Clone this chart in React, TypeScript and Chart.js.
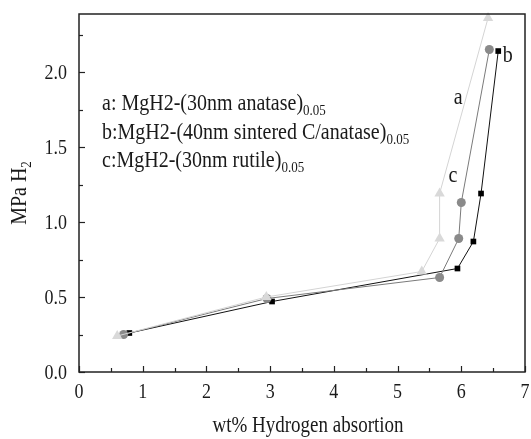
import React, { useEffect, useRef } from "react";
import { Chart, registerables } from "chart.js";

Chart.register(...registerables);

// Hydrogen absorption isotherms: wt% absorbed vs. pressure (MPa H2)
const seriesAX = [0.6, 2.94, 5.38, 5.66, 5.66, 6.42];
const seriesAY = [0.24, 0.5, 0.67, 0.89, 1.19, 2.36];
const seriesBX = [0.79, 3.03, 5.94, 6.19, 6.31, 6.58];
const seriesBY = [0.26, 0.47, 0.69, 0.87, 1.19, 2.14];
const seriesCX = [0.7, 2.95, 5.66, 5.96, 6.0, 6.44];
const seriesCY = [0.25, 0.49, 0.63, 0.89, 1.13, 2.15];

const xTicks = [0, 1, 2, 3, 4, 5, 6, 7];
const yTicks = [0.0, 0.5, 1.0, 1.5, 2.0];

const legendLines = [
  { main: "a: MgH2-(30nm anatase)", sub: "0.05" },
  { main: "b:MgH2-(40nm sintered C/anatase)", sub: "0.05" },
  { main: "c:MgH2-(30nm rutile)", sub: "0.05" },
];

const curveTags = [
  { text: "a", x: 5.88, y: 1.79 },
  { text: "b", x: 6.65, y: 2.07 },
  { text: "c", x: 5.8, y: 1.27 },
];

const pts = (xs: number[], ys: number[]) => xs.map((x, i) => ({ x, y: ys[i] }));

const SERIF = "'Liberation Serif', 'DejaVu Serif', serif";
const STRETCH = 1.2;

// text drawn slightly taller than wide, baseline at (x, y)
function tallText(ctx: CanvasRenderingContext2D, text: string, x: number, y: number, size: number, align: CanvasTextAlign = "left") {
  ctx.save();
  ctx.font = `${size}px ${SERIF}`;
  ctx.textAlign = align;
  ctx.textBaseline = "alphabetic";
  ctx.translate(x, y);
  ctx.scale(1, STRETCH);
  ctx.fillText(text, 0, 0);
  ctx.restore();
}

function textWidth(ctx: CanvasRenderingContext2D, text: string, size: number) {
  ctx.save();
  ctx.font = `${size}px ${SERIF}`;
  const w = ctx.measureText(text).width;
  ctx.restore();
  return w;
}

const framePlugin = {
  id: "frame",
  afterDraw(chart: any) {
    const { ctx, chartArea: a, scales } = chart;
    const xs = scales.x;
    const ys = scales.y;
    ctx.save();
    ctx.strokeStyle = "#222";
    ctx.lineWidth = 1.5;
    ctx.strokeRect(a.left, a.top, a.right - a.left, a.bottom - a.top);
    // inward ticks, major and minor
    ctx.lineWidth = 1.2;
    for (let v = 0; v <= 7.001; v += 0.5) {
      const px = Math.round(xs.getPixelForValue(v)) + 0.5;
      const len = Math.abs(v - Math.round(v)) < 1e-6 ? 6 : 4;
      ctx.beginPath();
      ctx.moveTo(px, a.bottom);
      ctx.lineTo(px, a.bottom - len);
      ctx.stroke();
    }
    for (let v = 0; v <= 2.35; v += 0.25) {
      const py = Math.round(ys.getPixelForValue(v)) + 0.5;
      const major = Math.abs(v * 2 - Math.round(v * 2)) < 1e-6;
      const len = major ? 6 : 4;
      ctx.beginPath();
      ctx.moveTo(a.left, py);
      ctx.lineTo(a.left + len, py);
      ctx.stroke();
    }

    ctx.fillStyle = "#1a1a1a";
    // tick labels
    xTicks.forEach((v) => {
      tallText(ctx, String(v), xs.getPixelForValue(v), a.bottom + 26, 18, "center");
    });
    yTicks.forEach((v) => {
      tallText(ctx, v.toFixed(1), a.left - 12, ys.getPixelForValue(v) + 7, 18, "right");
    });

    // legend text with subscripts
    legendLines.forEach((l, i) => {
      const bx = a.left + 23;
      const by = a.top + 96 + i * 28.5;
      tallText(ctx, l.main, bx, by, 20);
      const w = textWidth(ctx, l.main, 20);
      tallText(ctx, l.sub, bx + w, by + 5, 13);
    });
    // curve tags
    curveTags.forEach((t) => {
      tallText(ctx, t.text, xs.getPixelForValue(t.x), ys.getPixelForValue(t.y), 20);
    });

    // x-axis title
    tallText(ctx, "wt% Hydrogen absortion", 308, 432, 19, "center");

    // y-axis title with subscript, rotated
    ctx.translate(26, (a.top + a.bottom) / 2);
    ctx.rotate(-Math.PI / 2);
    const mainT = "MPa H";
    const w1 = textWidth(ctx, mainT, 20);
    const w2 = textWidth(ctx, "2", 13);
    const start = -(w1 + w2) / 2;
    tallText(ctx, mainT, start, 0, 20);
    tallText(ctx, "2", start + w1, 5, 13);
    ctx.restore();
  },
};

export default function App() {
  const ref = useRef<HTMLCanvasElement | null>(null);

  useEffect(() => {
    document.body.style.margin = "0";
    const canvas = ref.current;
    if (!canvas) return;
    const chart = new Chart(canvas, {
      type: "scatter",
      data: {
        datasets: [
          {
            label: "a",
            data: pts(seriesAX, seriesAY),
            showLine: true,
            borderColor: "#d4d4d4",
            borderWidth: 1,
            backgroundColor: "#d9d9d9",
            pointStyle: "triangle",
            pointRadius: 6,
            pointBorderWidth: 0,
            clip: false,
          },
          {
            label: "c",
            data: pts(seriesCX, seriesCY),
            showLine: true,
            borderColor: "#7a7a7a",
            borderWidth: 1,
            backgroundColor: "#8a8a8a",
            pointStyle: "circle",
            pointRadius: 4.5,
            pointBorderWidth: 0,
            clip: false,
          },
          {
            label: "b",
            data: pts(seriesBX, seriesBY),
            showLine: true,
            borderColor: "#111",
            borderWidth: 1,
            backgroundColor: "#000",
            pointStyle: "rect",
            pointRadius: 4,
            pointBorderWidth: 0,
            clip: false,
          },
        ],
      },
      options: {
        animation: false,
        responsive: false,
        layout: { padding: { top: 14, right: 3, left: 0, bottom: 0 } },
        plugins: {
          legend: { display: false },
          tooltip: { enabled: false },
        },
        scales: {
          x: {
            type: "linear",
            min: 0,
            max: 7,
            grid: { display: false, drawTicks: false },
            border: { display: false },
            ticks: { display: false },
            afterFit: (s: any) => {
              s.height = 67;
              s.paddingLeft = 0;
              s.paddingRight = 0;
            },
          },
          y: {
            type: "linear",
            min: 0,
            max: 2.387,
            grid: { display: false, drawTicks: false },
            border: { display: false },
            ticks: { display: false },
            afterFit: (s: any) => {
              s.width = 79;
              s.paddingTop = 0;
              s.paddingBottom = 0;
            },
          },
        },
      },
      plugins: [framePlugin],
    });
    return () => chart.destroy();
  }, []);

  return <canvas ref={ref} width={531} height={439} style={{ display: "block" }} />;
}
